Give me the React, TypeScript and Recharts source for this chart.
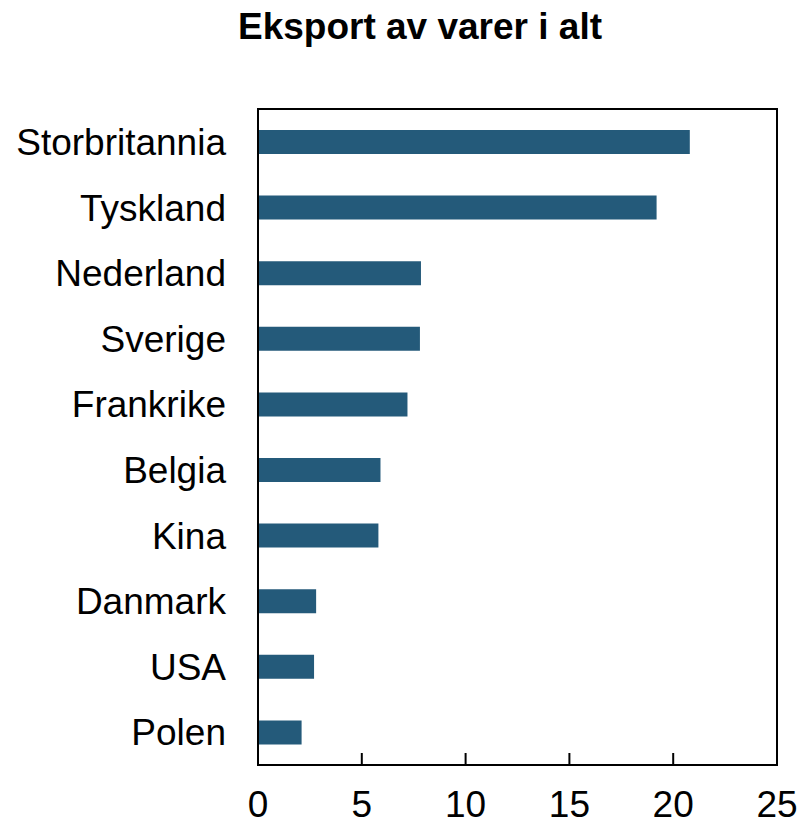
import { BarChart, Bar, XAxis, YAxis, ReferenceArea } from 'recharts';

const countries = ['Storbritannia', 'Tyskland', 'Nederland', 'Sverige', 'Frankrike', 'Belgia', 'Kina', 'Danmark', 'USA', 'Polen'];
const exportShare = [20.8, 19.2, 7.85, 7.8, 7.2, 5.9, 5.8, 2.8, 2.7, 2.1];
const xTicks = [0, 5, 10, 15, 20, 25];

const data = countries.map((country, i) => ({ country, value: exportShare[i] }));

const font = 'Arial, "Liberation Sans", sans-serif';

export default function App() {
  return (
    <div style={{ position: 'absolute', left: 0, top: 0, width: 803, height: 827, background: 'white' }}>
      <div
        style={{
          position: 'absolute',
          left: 0,
          top: 6,
          width: 840,
          textAlign: 'center',
          fontFamily: font,
          fontWeight: 'bold',
          fontSize: 37,
        }}
      >
        Eksport av varer i alt
      </div>
      <BarChart
        width={803}
        height={827}
        data={data}
        layout="vertical"
        margin={{ top: 109, right: 26, bottom: 0, left: 0 }}
        barSize={24}
      >
        <XAxis
          type="number"
          domain={[0, 25]}
          ticks={xTicks}
          interval={0}
          height={62}
          axisLine={{ stroke: '#000', strokeWidth: 2 }}
          tickLine={{ stroke: '#000', strokeWidth: 2 }}
          tickSize={-12}
          tickMargin={38}
          tick={{ fill: '#000', fontSize: 37, fontFamily: font }}
        />
        <YAxis
          type="category"
          dataKey="country"
          width={258}
          axisLine={{ stroke: '#000', strokeWidth: 2 }}
          tickLine={false}
          tickSize={0}
          tickMargin={32}
          interval={0}
          tick={{ fill: '#000', fontSize: 37, fontFamily: font }}
        />
        <Bar dataKey="value" fill="#245a7a" isAnimationActive={false} />
        <ReferenceArea
          x1={0}
          x2={25}
          fill="none"
          fillOpacity={0}
          stroke="#000"
          strokeWidth={2}
          ifOverflow="visible"
        />
      </BarChart>
    </div>
  );
}
